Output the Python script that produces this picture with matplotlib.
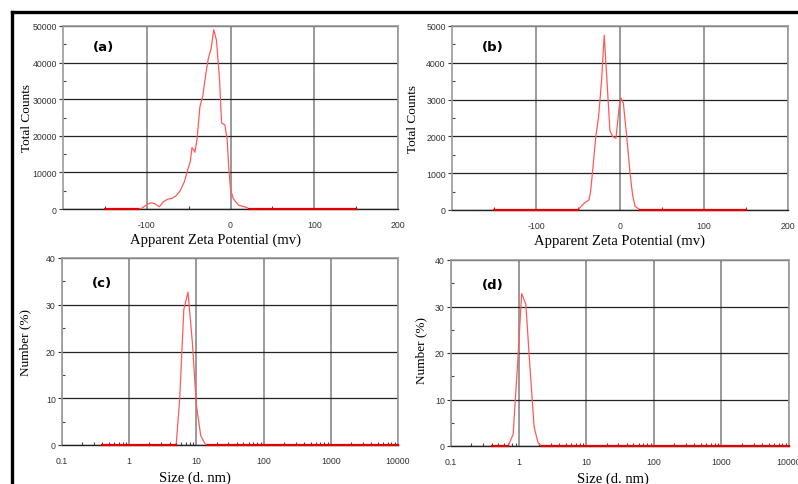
import numpy as np
import matplotlib
matplotlib.use("Agg")
import matplotlib.pyplot as plt
from matplotlib.lines import Line2D
from matplotlib.ticker import LogLocator, NullFormatter, FixedLocator

plt.rcParams["axes.unicode_minus"] = False

# --- data ---
# (a) zeta potential, sample 1
zeta_a_mv = [-150, -110, -105, -100, -95, -90, -85, -80, -75, -70, -65, -60, -55, -52,
             -48, -46, -42.5, -40, -36.5, -33, -30, -26.6, -23, -20, -16.7, -13, -10.7,
             -6.7, -4, -2, 0, 3, 6, 10, 17, 20, 22, 150]
counts_a = [0, 0, 300, 1200, 1700, 1400, 600, 2000, 2700, 2900, 3600, 5000, 7500, 10000,
            13000, 16800, 15500, 19000, 28000, 31000, 36000, 41000, 44000, 49000, 46000,
            35000, 23500, 23000, 19000, 11000, 5500, 3000, 2000, 1000, 600, 300, 0, 0]

# (b) zeta potential, sample 2
zeta_b_mv = [-150, -50, -47, -42, -37, -35, -32, -28.8, -25.6, -22, -18.8, -16, -12, -8.8,
             -4.8, -1, 1, 4, 8, 12, 15, 18, 24, 150]
counts_b = [0, 0, 80, 200, 270, 500, 1200, 2000, 2500, 3500, 4750, 3700, 2150, 2000,
            1950, 2800, 3050, 2900, 2000, 1000, 400, 100, 0, 0]

# (c) size distribution by number, sample 1
size_c_nm = [0.4, 5.0, 5.65, 6.5, 7.5, 8.7, 10, 11.6, 13.5, 15, 10000]
number_c = [0, 0, 10, 29, 32.7, 22, 8.5, 2, 0.2, 0, 0]

# (d) size distribution by number, sample 2
size_d_nm = [0.4, 0.7, 0.83, 0.97, 1.11, 1.28, 1.47, 1.7, 1.95, 2.2, 10000]
number_d = [0, 0, 2.5, 18, 32.8, 30.5, 17, 4, 0.6, 0, 0]

tick_font = ["Liberation Sans Narrow", "Liberation Sans", "DejaVu Sans"]
label_font = ["Liberation Serif", "DejaVu Serif"]

fig = plt.figure(figsize=(7.98, 4.85), dpi=100)
W, H = 798.0, 485.0


def box(l, t, r, b):
    return [l / W, 1 - b / H, (r - l) / W, (b - t) / H]


def style(ax):
    for s in ["left", "top", "right"]:
        ax.spines[s].set_color("#9a9a9a")
        ax.spines[s].set_linewidth(1.2)
    ax.spines["bottom"].set_color("#222222")
    ax.spines["bottom"].set_linewidth(1.0)
    ax.tick_params(axis="both", which="major", labelsize=6.3, colors="#333333",
                   length=3, width=0.8, direction="out")
    ax.tick_params(axis="both", which="minor", length=2.5, width=0.8,
                   direction="in", color="#444444")
    ax.tick_params(axis="x", which="major", length=0, pad=8)
    ax.tick_params(axis="y", which="major", pad=1.5)
    for lab in ax.get_xticklabels() + ax.get_yticklabels():
        lab.set_family(tick_font)
    ax.xaxis.grid(True, which="major", color="#9a9a9a", lw=1.4)
    ax.yaxis.grid(True, which="major", color="#222222", lw=0.9)
    ax.set_axisbelow(True)


def labels(ax, xlab, ylab, xpos, ypos):
    ax.set_ylabel(ylab, family=label_font, fontsize=9.5)
    ax.set_xlabel(xlab, family=label_font, fontsize=10.5)
    ax.yaxis.set_label_coords(*ypos)
    ax.xaxis.set_label_coords(*xpos)


def draw_curve(ax, x, y):
    x = np.asarray(x, float)
    y = np.asarray(y, float)
    ax.plot(x, y, color="#ff5a5a", lw=0.9, zorder=3, clip_on=False)
    base = np.where(y == 0, y, np.nan)
    ax.plot(x, base, color="#e00000", lw=1.6, zorder=4, clip_on=False)


def tag(ax, s, y):
    ax.text(0.09, y, s, transform=ax.transAxes, fontsize=9.5, fontweight="bold",
            family="DejaVu Sans", va="center")


# (a)
ax = fig.add_axes(box(63, 27, 398, 210))
draw_curve(ax, zeta_a_mv, counts_a)
ax.set_xlim(-200, 200)
ax.set_ylim(0, 50000)
ax.set_xticks([-100, 0, 100, 200])
ax.xaxis.set_minor_locator(FixedLocator([-150, -50, 50, 150]))
ax.set_yticks(np.arange(0, 50001, 10000))
ax.yaxis.set_minor_locator(FixedLocator(np.arange(5000, 50000, 10000)))
style(ax)
labels(ax, "Apparent Zeta Potential (mv)", "Total Counts", (0.454, -0.128), (-0.09, 0.5))
tag(ax, "(a)", 0.89)

# (b)
ax = fig.add_axes(box(452, 27, 788, 211))
draw_curve(ax, zeta_b_mv, counts_b)
ax.set_xlim(-200, 200)
ax.set_ylim(0, 5000)
ax.set_xticks([-100, 0, 100, 200])
ax.xaxis.set_minor_locator(FixedLocator([-150, -50, 50, 150]))
ax.set_yticks(np.arange(0, 5001, 1000))
ax.yaxis.set_minor_locator(FixedLocator(np.arange(500, 5000, 1000)))
style(ax)
labels(ax, "Apparent Zeta Potential (mv)", "Total Counts", (0.5, -0.128), (-0.098, 0.5))
tag(ax, "(b)", 0.89)


def log_setup(ax):
    ax.set_xscale("log")
    ax.set_xlim(0.1, 10000)
    ax.set_ylim(0, 40)
    ax.set_xticks([0.1, 1, 10, 100, 1000, 10000])
    ax.set_xticklabels(["0.1", "1", "10", "100", "1000", "10000"])
    ax.xaxis.set_minor_locator(LogLocator(base=10, subs=np.arange(2, 10), numticks=20))
    ax.xaxis.set_minor_formatter(NullFormatter())
    ax.set_yticks([0, 10, 20, 30, 40])
    ax.yaxis.set_minor_locator(FixedLocator([5, 15, 25, 35]))
    style(ax)


# (c)
ax = fig.add_axes(box(62, 259, 398, 446))
draw_curve(ax, size_c_nm, number_c)
log_setup(ax)
labels(ax, "Size (d. nm)", "Number (%)", (0.396, -0.135), (-0.092, 0.556))
tag(ax, "(c)", 0.87)

# (d)
ax = fig.add_axes(box(451, 261, 789, 447))
draw_curve(ax, size_d_nm, number_d)
log_setup(ax)
labels(ax, "Size (d. nm)", "Number (%)", (0.48, -0.135), (-0.071, 0.52))
tag(ax, "(d)", 0.87)

# frame around the figure (top and left edges visible)
fig.add_artist(Line2D([12 / W, 1.0], [1 - 13 / H, 1 - 13 / H], color="black", lw=2.4))
fig.add_artist(Line2D([12 / W, 12 / W], [1 - 13 / H, 0.0], color="black", lw=2.4))

fig.savefig("out.png", dpi=100)
